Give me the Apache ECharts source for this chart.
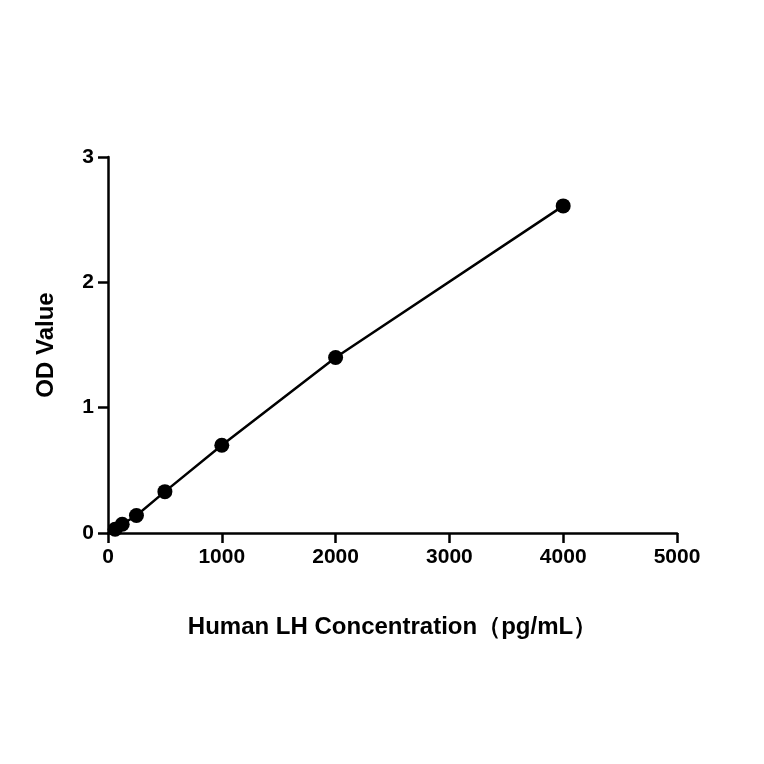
<!DOCTYPE html>
<html><head><meta charset="utf-8">
<script src="https://cdn.jsdelivr.net/npm/echarts@6/dist/echarts.min.js"></script>
<style>html,body{margin:0;background:#fff}#c{width:764px;height:764px}</style>
</head><body><div id="c"></div>
<script>
const conc = [62.5, 125, 250, 500, 1000, 2000, 4000];
const od = [0.03, 0.07, 0.14, 0.33, 0.70, 1.40, 2.61];
const xTicks = [0, 1000, 2000, 3000, 4000, 5000];
const yTicks = [0, 1, 2, 3];
const pts = conc.map((c, i) => [c, od[i]]);
const chart = echarts.init(document.getElementById('c'));
const axisCommon = {
  axisLine: {show: true, lineStyle: {color: '#000', width: 2.5}},
  axisTick: {show: true, length: 10, lineStyle: {color: '#000', width: 2.5}},
  splitLine: {show: false},
  nameTextStyle: {color: '#000', fontSize: 24, fontWeight: 'bold', fontFamily: 'Liberation Sans'}
};
const lbl = {color: '#000', fontSize: 21, fontWeight: 'bold', fontFamily: 'Liberation Sans', formatter: v => String(v)};
chart.setOption({
  animation: false,
  grid: {left: 108, right: 87, top: 157, bottom: 231},
  xAxis: Object.assign({type: 'value', min: 0, max: 5000, interval: 1000,
    axisLabel: Object.assign({margin: 14}, lbl),
    name: 'Human LH Concentration（pg/mL）', nameLocation: 'middle', nameGap: 82}, axisCommon),
  yAxis: Object.assign({type: 'value', min: 0, max: 3, interval: 1,
    axisLabel: Object.assign({margin: 14}, lbl),
    name: 'OD Value', nameLocation: 'middle', nameGap: 50}, axisCommon),
  series: [{type: 'line', data: pts, symbol: 'circle', symbolSize: 15,
    lineStyle: {color: '#000', width: 2.5}, itemStyle: {color: '#000'}}]
});
</script></body></html>
